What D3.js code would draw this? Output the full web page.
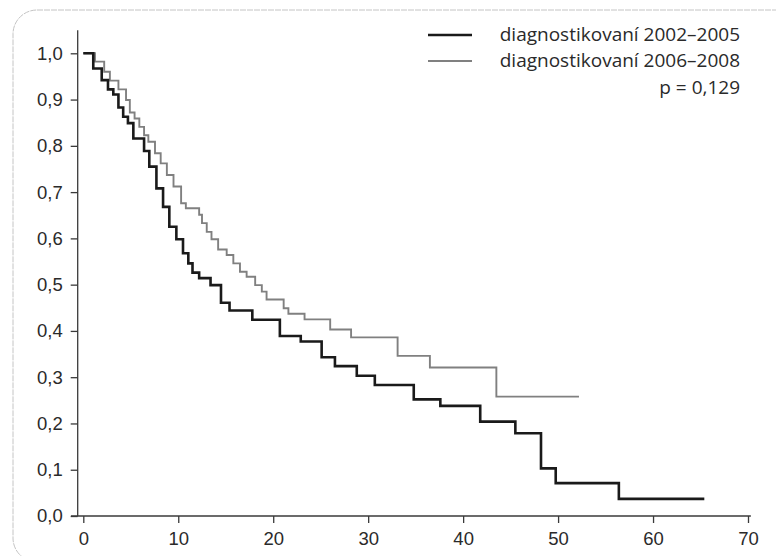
<!DOCTYPE html>
<html>
<head>
<meta charset="utf-8">
<script src="https://cdn.jsdelivr.net/npm/d3@7"></script>
<style>
  body { margin: 0; background: #fff; }
  svg { display: block; font-family: "Open Sans", sans-serif; }
</style>
</head>
<body>
<div id="chart"></div>
<script>
// survival curve, diagnosed 2002-2005 (months, probability)
const timesA = [0, 1.05, 1.94, 2.6, 3.16, 3.7, 4.2, 4.7, 5.27, 6.4, 6.95, 7.7, 8.4, 9.06, 9.8, 10.5, 11.06, 11.5, 12.2, 13.4, 14.5, 15.4, 17.8, 20.7, 22.9, 25.1, 26.5, 28.8, 30.7, 34.8, 37.6, 41.8, 45.5, 48.2, 49.75, 56.4, 65.4];
const survA = [1.0, 0.967, 0.942, 0.922, 0.911, 0.883, 0.863, 0.849, 0.816, 0.789, 0.755, 0.708, 0.668, 0.625, 0.598, 0.568, 0.546, 0.526, 0.514, 0.499, 0.461, 0.444, 0.424, 0.389, 0.377, 0.343, 0.324, 0.303, 0.283, 0.252, 0.238, 0.204, 0.179, 0.103, 0.071, 0.037, 0.037];

// survival curve, diagnosed 2006-2008
const timesB = [0, 1.23, 2.2, 2.8, 3.7, 4.5, 4.9, 5.4, 5.9, 6.4, 6.85, 7.55, 8.15, 8.8, 9.5, 10.3, 10.8, 12.2, 12.5, 13.0, 13.5, 14.2, 15.1, 15.8, 16.5, 17.2, 18.1, 18.8, 19.3, 21.1, 21.6, 23.3, 26.0, 28.2, 33.1, 36.5, 43.5, 52.2];
const survB = [1.0, 0.982, 0.960, 0.941, 0.922, 0.899, 0.872, 0.859, 0.841, 0.823, 0.809, 0.784, 0.762, 0.737, 0.712, 0.676, 0.665, 0.651, 0.633, 0.614, 0.598, 0.576, 0.564, 0.546, 0.528, 0.517, 0.499, 0.485, 0.468, 0.449, 0.437, 0.425, 0.403, 0.386, 0.346, 0.321, 0.258, 0.258];

const seriesNames = ["diagnostikovaní 2002–2005", "diagnostikovaní 2006–2008"];
const pValue = "p = 0,129";
const xTicks = [0, 10, 20, 30, 40, 50, 60, 70];
const yTicks = [0, 0.1, 0.2, 0.3, 0.4, 0.5, 0.6, 0.7, 0.8, 0.9, 1.0];

const width = 776, height = 556;
const axisColor = "#3a3a3a";

const svg = d3.select("#chart").append("svg")
    .attr("width", width)
    .attr("height", height);

// scanned page frame
svg.append("rect")
    .attr("x", 13).attr("y", 10)
    .attr("width", 820).attr("height", 552)
    .attr("rx", 24)
    .attr("fill", "none")
    .attr("stroke", "#c4c4c4")
    .attr("stroke-width", 1)
    .attr("stroke-dasharray", "6 1");

const x = d3.scaleLinear().domain([0, 70]).range([83.3, 748]);
const y = d3.scaleLinear().domain([0, 1]).range([516, 53.3]);

const fmt = d => d3.format(".1f")(d).replace(".", ",");

// axes
const yAxis = svg.append("g")
    .attr("transform", `translate(${x(0) - 5.6},0)`)
    .call(d3.axisLeft(y).tickValues(yTicks).tickFormat(fmt).tickSize(7).tickPadding(8).tickSizeOuter(0));
yAxis.select(".domain").remove();

const xAxis = svg.append("g")
    .attr("transform", `translate(0,${y(0)})`)
    .call(d3.axisBottom(x).tickValues(xTicks).tickFormat(d3.format("d")).tickSize(7).tickPadding(9).tickSizeOuter(0));
xAxis.select(".domain").remove();

[yAxis, xAxis].forEach(g => {
    g.selectAll("line").attr("stroke", axisColor).attr("stroke-width", 1.3);
    g.selectAll("text").attr("fill", "#2a2a2a").style("font-size", "18.5px");
});

// axis lines
svg.append("line")
    .attr("x1", x(0) - 5.6).attr("x2", x(0) - 5.6)
    .attr("y1", y(1.05)).attr("y2", y(0))
    .attr("stroke", axisColor).attr("stroke-width", 1.3);
svg.append("line")
    .attr("x1", x(-1.3)).attr("x2", x(70.3))
    .attr("y1", y(0)).attr("y2", y(0))
    .attr("stroke", axisColor).attr("stroke-width", 1.3);

// step curves
const line = d3.line()
    .x(d => x(d[0]))
    .y(d => y(d[1]))
    .curve(d3.curveStepAfter);

const curveB = timesB.map((t, i) => [t, survB[i]]);
const curveA = timesA.map((t, i) => [t, survA[i]]);

svg.append("path")
    .datum(curveB)
    .attr("d", line)
    .attr("fill", "none")
    .attr("stroke", "#808080")
    .attr("stroke-width", 1.9);

svg.append("path")
    .datum(curveA)
    .attr("d", line)
    .attr("fill", "none")
    .attr("stroke", "#1a1a1a")
    .attr("stroke-width", 2.6);

// legend
const legend = svg.append("g");
const legendStyles = [
    { color: "#1a1a1a", w: 2.6, y: 35 },
    { color: "#808080", w: 1.9, y: 61 }
];
legendStyles.forEach((s, i) => {
    legend.append("line")
        .attr("x1", 428).attr("x2", 472)
        .attr("y1", s.y).attr("y2", s.y)
        .attr("stroke", s.color).attr("stroke-width", s.w);
    legend.append("text")
        .attr("x", 740).attr("y", s.y + 6)
        .attr("text-anchor", "end")
        .attr("fill", "#2a2a2a")
        .style("font-size", "19px")
        .text(seriesNames[i]);
});
legend.append("text")
    .attr("x", 740).attr("y", 94)
    .attr("text-anchor", "end")
    .attr("fill", "#2a2a2a")
    .style("font-size", "19px")
    .text(pValue);
</script>
</body>
</html>
